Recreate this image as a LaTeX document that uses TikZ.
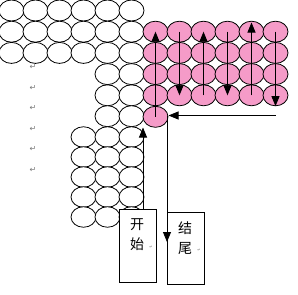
\documentclass[tikz,border=0pt]{standalone}
\usepackage{fontspec}
\newfontfamily\cjk{Noto Sans CJK SC}
\newfontfamily\dejavu{DejaVu Sans}
\usetikzlibrary{shapes.geometric,arrows.meta}
\definecolor{pinkfill}{RGB}{245,155,200}
\definecolor{markgrey}{RGB}{120,120,120}
\begin{document}
\begin{tikzpicture}[x=1pt,y=-1pt,
  cell/.style={ellipse, draw=black, line width=0.8pt, minimum width=25pt, minimum height=21pt, inner sep=0pt, fill=white},
  lcell/.style={cell, minimum height=20.5pt},
  pcell/.style={cell, fill=pinkfill},
  arr/.style={line width=0.8pt, -{Triangle[width=8pt,length=10pt]}},
  tbox/.style={draw=black, line width=0.8pt, fill=white, minimum width=37pt, inner sep=0pt},
  cjktext/.style={font=\cjk\fontsize{14}{20}\selectfont, align=center, inner sep=0pt},
  retmark/.style={font=\dejavu\fontsize{8}{9}\selectfont, text=markgrey, inner sep=0pt},
  tinymark/.style={font=\dejavu\fontsize{4}{5}\selectfont, text=markgrey, inner sep=0pt}]
\useasboundingbox (0,0) rectangle (298,295);
% upper white rows 0-2
\foreach \r/\y in {0/10.5,1/31.7,2/52.9}
  \foreach \c in {0,...,5}
    \node[cell] (w\r-\c) at ({11.5+24*\c},\y) {};
% white rows 3-5, columns 4-5
\foreach \r/\y in {3/74.1,4/95.3,5/116.2}
  \foreach \c in {4,5}
    \node[cell] (w\r-\c) at ({11.5+24*\c},\y) {};
% pink rows 1-4
\foreach \r/\y in {1/31.7,2/52.9,3/74.1,4/95.3}
  \foreach \c in {6,...,11}
    \node[pcell] (p\r-\c) at ({11.5+24*\c},\y) {};
\node[pcell] (p5-6) at (155.5,116.8) {};
% lower white grid
\foreach \r/\y in {6/137,7/157,8/177,9/197,10/217}
  \foreach \c in {3,4,5}
    \node[lcell] (l\r-\c) at ({11.5+24*\c},\y) {};
% paragraph marks
\foreach \i/\y in {1/67,2/88,3/108,4/128.5,5/149,6/170}
  \node[retmark] (m\i) at (33,\y) {↵};
% boxes
\node[tbox, minimum height=73pt] (start) at (137.5,245.5) {};
\node[tbox, minimum height=72pt] (finish) at (185.5,248) {};
\node[cjktext] (starttext) at (137,235) {开\\始};
\node[cjktext] (finishtext) at (185,238) {结\\尾};
\node[tinymark] (sm) at (151,247) {↵};
\node[tinymark] (fm) at (199,250) {↵};
% serpentine arrows
\draw[arr] (p5-6.center) -- (p1-6.center);
\draw[arr] (p1-7.center) -- (p4-7.center);
\draw[arr] (p4-8.center) -- (p1-8.center);
\draw[arr] (p1-9.center) -- (p4-9.center);
\coordinate (top10) at (251.5,22.5);
\draw[arr] (p4-10.center) -- (top10);
\draw[arr] (p1-11.center) -- (p4-11.south);
\coordinate (hstart) at (275.5,115.5);
\coordinate (hend) at (168.5,115.5);
\draw[arr] (hstart) -- (hend);
\coordinate (vstart) at (167,115.5);
\coordinate (vend) at (167,242);
\draw[arr] (vstart) -- (vend);
\coordinate (ustart) at (143,209);
\coordinate (uend) at (143,127.5);
\draw[arr] (ustart) -- (uend);
\end{tikzpicture}
\end{document}
